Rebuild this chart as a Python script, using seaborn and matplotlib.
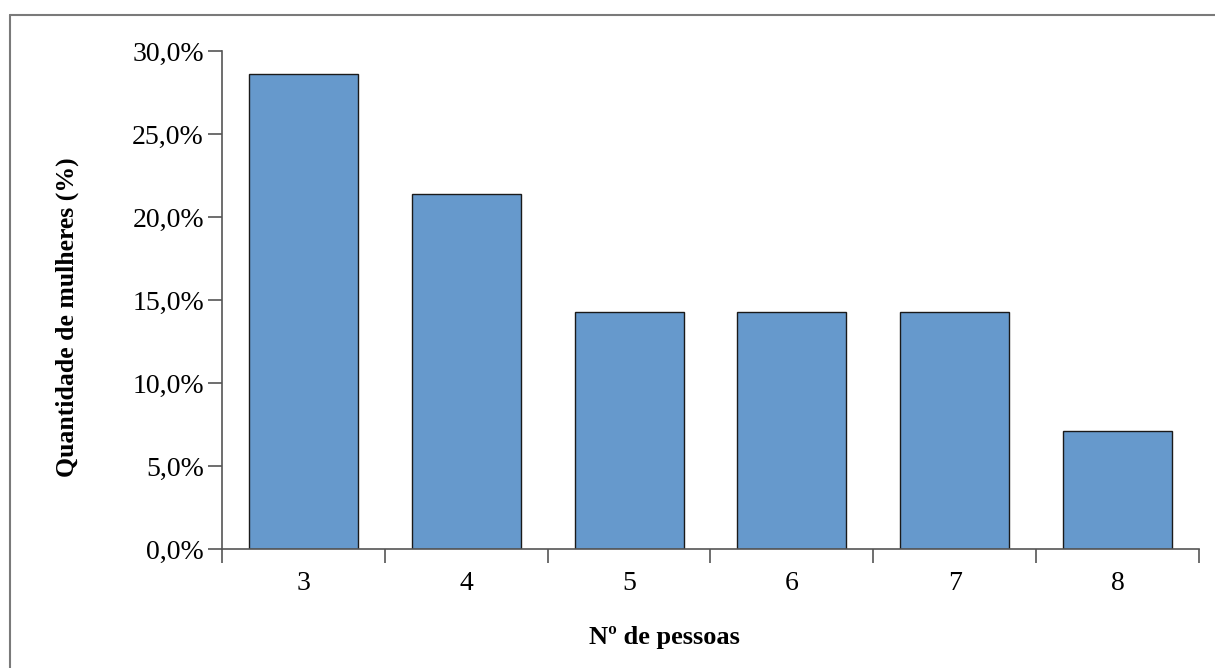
import matplotlib
matplotlib.use('Agg')
import matplotlib.pyplot as plt
import matplotlib.ticker as mticker
import pandas as pd
import seaborn as sns

pessoas = ['3', '4', '5', '6', '7', '8']
mulheres = [28.6, 21.4, 14.3, 14.3, 14.3, 7.1]
yticks = [0, 5, 10, 15, 20, 25, 30]

sns.set_style('white')
plt.rcParams['font.family'] = ['Liberation Serif', 'DejaVu Serif']
plt.rcParams['text.color'] = 'black'
plt.rcParams['axes.labelcolor'] = 'black'

data = pd.DataFrame({'pessoas': pessoas, 'mulheres': mulheres})

fig = plt.figure(figsize=(12.15, 6.68), dpi=100)
ax = fig.add_axes([0.1827, 0.1781, 0.8041, 0.7456])

sns.barplot(data=data, x='pessoas', y='mulheres', color='#6699cc', saturation=1,
            width=0.67, edgecolor='#1a1a1a', linewidth=1.0, ax=ax)

ax.set_ylim(0, 30)
ax.set_xlim(-0.5, len(pessoas) - 0.5)
ax.set_yticks(yticks)
ax.yaxis.set_major_formatter(mticker.FuncFormatter(lambda v, p: f'{v:.1f}%'.replace('.', ',')))
ax.set_xticks(range(len(pessoas)))
ax.set_xticklabels(pessoas)
ax.set_xticks([i - 0.5 for i in range(len(pessoas) + 1)], minor=True)

ax.tick_params(axis='x', which='major', length=0, pad=16, labelsize=20, labelcolor='black')
ax.tick_params(axis='x', which='minor', length=10, width=1.2, color='#555555', direction='out')
ax.tick_params(axis='y', which='major', length=10, width=1.2, color='#555555', direction='out',
               pad=3, labelsize=20, labelcolor='black')
ax.xaxis.set_ticks_position('bottom')
ax.yaxis.set_ticks_position('left')

for s in ['top', 'right']:
    ax.spines[s].set_visible(False)
for s in ['left', 'bottom']:
    ax.spines[s].set_color('#555555')
    ax.spines[s].set_linewidth(1.2)

ax.set_xlabel('Nº de pessoas', fontsize=19, fontweight='bold')
ax.set_ylabel('Quantidade de mulheres (%)', fontsize=18.5, fontweight='bold')
ax.xaxis.set_label_coords(0.453, -0.155)
ax.yaxis.set_label_coords(-0.146, 0.466)

# outer frame of the original picture
fx0 = 10 / 1215
fy0 = 1 - 15 / 668
fig.add_artist(plt.Line2D([fx0, 1.0], [fy0, fy0], transform=fig.transFigure,
                          color='#7a7a7a', linewidth=1.5))
fig.add_artist(plt.Line2D([fx0, fx0], [0.0, fy0], transform=fig.transFigure,
                          color='#7a7a7a', linewidth=1.5))

fig.savefig('out.png', dpi=100)
